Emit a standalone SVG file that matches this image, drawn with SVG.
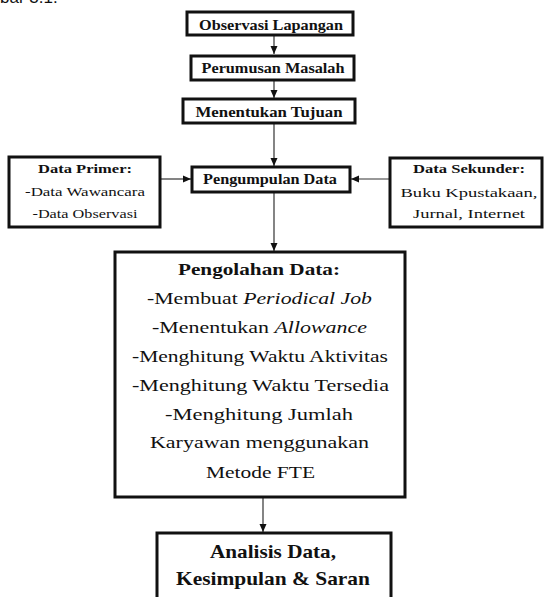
<svg xmlns="http://www.w3.org/2000/svg" width="545" height="597" viewBox="0 0 545 597">
<defs>
<style>
.box{fill:#fff;stroke:#111;stroke-width:3}
.t{font-family:'Liberation Serif','Times New Roman',serif;fill:#111;text-anchor:middle}
.b{font-weight:bold}
.con{stroke:#333;stroke-width:1.2;fill:none;marker-end:url(#ah)}
</style>
<marker id="ah" viewBox="0 0 8 8" refX="8" refY="4" markerWidth="8" markerHeight="8" markerUnits="userSpaceOnUse" orient="auto">
<path d="M0,0.5 L8,4 L0,7.5 Z" fill="#111"/>
</marker>
</defs>
<rect width="545" height="597" fill="#fff"/>
<text x="0" y="3" font-family="Liberation Sans, Arial, sans-serif" font-size="17" fill="#111">bar 3.1.</text>

<g id="connectors">
<line class="con" x1="274" y1="36" x2="274" y2="54"/>
<line class="con" x1="274" y1="81" x2="274" y2="98"/>
<line class="con" x1="274" y1="124" x2="274" y2="166"/>
<line class="con" x1="161" y1="179" x2="191" y2="179"/>
<line class="con" x1="389" y1="179" x2="351" y2="179"/>
<line class="con" x1="274" y1="193" x2="274" y2="251"/>
<line class="con" x1="263" y1="498" x2="263" y2="532"/>
</g>

<g id="observasi">
<rect class="box" x="187" y="12" width="166" height="23"/>
<text class="t b" x="271" y="30" font-size="14" textLength="144" lengthAdjust="spacingAndGlyphs">Observasi Lapangan</text>
</g>
<g id="perumusan">
<rect class="box" x="191" y="56" width="163" height="24"/>
<text class="t b" x="273" y="73" font-size="14" textLength="143" lengthAdjust="spacingAndGlyphs">Perumusan Masalah</text>
</g>
<g id="tujuan">
<rect class="box" x="183" y="99" width="172" height="24"/>
<text class="t b" x="269" y="117" font-size="14" textLength="147" lengthAdjust="spacingAndGlyphs">Menentukan Tujuan</text>
</g>
<g id="pengumpulan">
<rect class="box" x="192" y="167" width="158" height="25"/>
<text class="t b" x="270" y="184" font-size="14" textLength="134" lengthAdjust="spacingAndGlyphs">Pengumpulan Data</text>
</g>
<g id="primer">
<rect class="box" x="9" y="157" width="151" height="70"/>
<text class="t b" x="85" y="173" font-size="13.5" textLength="94" lengthAdjust="spacingAndGlyphs">Data Primer:</text>
<text class="t" x="85" y="196" font-size="13.5" textLength="120" lengthAdjust="spacingAndGlyphs">-Data Wawancara</text>
<text class="t" x="85" y="218" font-size="13.5" textLength="105" lengthAdjust="spacingAndGlyphs">-Data Observasi</text>
</g>
<g id="sekunder">
<rect class="box" x="390" y="158" width="152" height="69"/>
<text class="t b" x="469" y="173" font-size="13.5" textLength="112" lengthAdjust="spacingAndGlyphs">Data Sekunder:</text>
<text class="t" x="469" y="197" font-size="13.5" textLength="137" lengthAdjust="spacingAndGlyphs">Buku Kpustakaan,</text>
<text class="t" x="469" y="218" font-size="13.5" textLength="112" lengthAdjust="spacingAndGlyphs">Jurnal, Internet</text>
</g>
<g id="pengolahan">
<rect class="box" x="115" y="252" width="290" height="245"/>
<text class="t b" x="259" y="275" font-size="17" textLength="162" lengthAdjust="spacingAndGlyphs">Pengolahan Data:</text>
<text class="t" x="259.5" y="304" font-size="16.5" textLength="225" lengthAdjust="spacingAndGlyphs">-Membuat <tspan font-style="italic">Periodical Job</tspan></text>
<text class="t" x="259.5" y="333" font-size="16.5" textLength="215" lengthAdjust="spacingAndGlyphs">-Menentukan <tspan font-style="italic">Allowance</tspan></text>
<text class="t" x="260" y="362" font-size="16.5" textLength="256" lengthAdjust="spacingAndGlyphs">-Menghitung Waktu Aktivitas</text>
<text class="t" x="260.5" y="391" font-size="16.5" textLength="257" lengthAdjust="spacingAndGlyphs">-Menghitung Waktu Tersedia</text>
<text class="t" x="259" y="420" font-size="16.5" textLength="188" lengthAdjust="spacingAndGlyphs">-Menghitung Jumlah</text>
<text class="t" x="259.5" y="448" font-size="16.5" textLength="219" lengthAdjust="spacingAndGlyphs">Karyawan menggunakan</text>
<text class="t" x="260.5" y="478" font-size="16.5" textLength="109" lengthAdjust="spacingAndGlyphs">Metode FTE</text>
</g>
<g id="analisis">
<rect class="box" x="157" y="533" width="234" height="80"/>
<text class="t b" x="273" y="558" font-size="19.5" textLength="126" lengthAdjust="spacingAndGlyphs">Analisis Data,</text>
<text class="t b" x="273" y="585" font-size="19.5" textLength="194" lengthAdjust="spacingAndGlyphs">Kesimpulan &amp; Saran</text>
</g>
</svg>
